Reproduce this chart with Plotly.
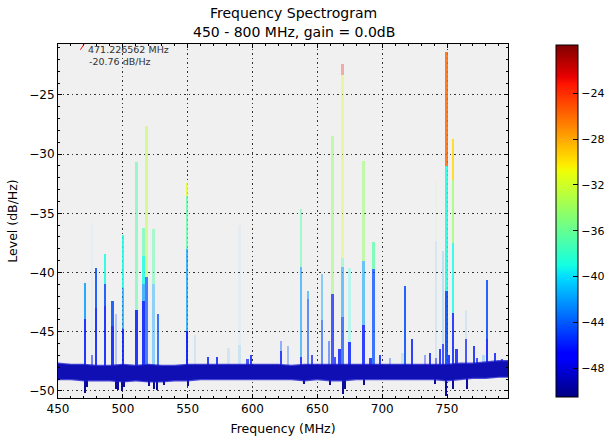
import plotly.graph_objects as go

# ---------------- data ----------------
title_line1 = "Frequency Spectrogram"
title_line2 = "450 - 800 MHz, gain = 0.0dB"
x_ticks = [450, 500, 550, 600, 650, 700, 750]
y_ticks = [-50, -45, -40, -35, -30, -25]
cbar_ticks = [-48, -44, -40, -36, -32, -28, -24]
marker_freq = 471.226562
marker_level = -20.76

# colour levels (dB) used with the jet colour scale
B, MB, LB, C, AG, LG, YG, Y, YO, O, R = -46.0, -44.4, -41.9, -39.0, -36.7, -34.2, -32.7, -31.3, -29.6, -25.9, -23.0

# peaks: frequency, descending segment tops (dB), colour level of each segment, density of each segment
peak_freqs = [471.1, 476.5, 479.6, 486.6, 492.2, 495.0, 500.5, 510.6, 516.2, 518.6,
              523.8, 527.1, 549.8, 555.7, 565.8, 572.7, 581.7, 590.2, 596.2, 599.0,
              622.2, 627.6, 637.7, 643.1, 646.2, 653.9, 659.3, 661.7, 664.0, 667.1,
              669.4, 674.8, 685.6, 691.0, 693.4, 698.5, 706.0, 715.8, 717.8, 723.0,
              733.3, 737.0, 741.6, 744.7, 747.2, 749.6, 751.8, 754.6, 757.5, 765.0,
              771.0, 773.3, 778.2, 781.2, 787.2, 792.4]
peak_levels = [[-40.9, -43.9], [-35.8, -47.0], [-39.6, -43.0], [-38.4, -41.0, -42.8], [-42.4, -44.5],
               [-43.5], [-36.8, -41.3, -44.8], [-30.7, -43.2], [-36.2, -38.6, -41.0, -42.4], [-27.6, -40.4],
               [-36.3, -41.0], [-43.5], [-32.4, -33.5, -38.0, -44.9], [-45.3], [-47.1], [-47.1], [-46.4],
               [-36.0, -46.1], [-47.3], [-47.0],
               [-45.8, -46.6], [-46.2], [-34.6, -39.5, -47.1], [-41.6, -42.2], [-47.0], [-40.1, -44.0],
               [-45.8], [-28.5, -41.8], [-47.1], [-46.5],
               [-22.4, -23.3, -38.8, -39.5, -43.8], [-39.6, -45.9], [-30.6, -39.0, -44.4], [-47.2],
               [-37.4, -39.7], [-47.0], [-47.2], [-46.8], [-41.1], [-45.6],
               [-47.0], [-46.8], [-32.3, -37.3, -47.2], [-46.5], [-38.2, -46.0], [-21.35, -31.0, -41.6],
               [-47.0], [-28.7, -32.2, -37.5, -43.4], [-46.5], [-43.2, -45.6],
               [-46.2], [-47.2], [-47.0], [-40.6, -45.6], [-46.8], [-47.3]]
peak_colors = [[LB, B], [LB, B], [MB, B], [C, MB, B], [MB, B],
               [MB], [C, LB, B], [AG, B], [AG, C, LB, B], [YG, MB],
               [AG, LB], [MB], [Y, AG, LB, B], [LB], [B], [B], [LB], [LB, LB], [B], [B],
               [MB, B], [MB], [AG, LB, B], [LB, MB], [B], [LB, MB], [MB], [LG, B], [B], [B],
               [R, Y, AG, LB, MB], [C, B], [LG, LB, B], [B], [AG, MB], [B], [MB], [LB], [MB], [B],
               [B], [B], [LG, LB, B], [B], [LB, B], [O, C, MB], [B], [YO, LG, C, B], [B], [LB, B],
               [B], [B], [LB], [MB, B], [B], [B]]
peak_density = [[0.85, 0.85], [0.04, 0.5], [0.85, 0.85], [0.85, 0.85, 0.85], [0.85, 0.85],
                [0.25], [0.85, 0.7, 0.85], [0.55, 0.85], [0.6, 0.8, 0.7, 0.85], [0.5, 0.7],
                [0.45, 0.4], [0.75], [0.8, 0.75, 0.75, 0.9], [0.12], [0.8], [0.8], [0.12], [0.04, 0.15], [0.7], [0.8],
                [0.4, 0.8], [0.3], [0.5, 0.6, 0.8], [0.55, 0.6], [0.7], [0.45, 0.6], [0.5], [0.5, 0.7], [0.7], [0.8],
                [0.3, 0.35, 0.4, 0.55, 0.7], [0.25, 0.8], [0.5, 0.55, 0.8], [0.8], [0.7, 0.75], [0.8], [0.35], [0.15], [0.85], [0.8],
                [0.35], [0.8], [0.06, 0.1, 0.5], [0.8], [0.2, 0.7], [0.85, 0.85, 0.9], [0.8], [0.8, 0.7, 0.8, 0.8], [0.8], [0.12, 0.7],
                [0.8], [0.7], [0.25], [0.85, 0.85], [0.8], [0.7]]

# noise floor envelope
floor_freq = [450, 460, 470, 480, 490, 500, 510, 520, 530, 540, 550, 560, 570, 580, 590, 600,
              610, 620, 630, 640, 650, 660, 670, 680, 690, 700, 710, 720, 730, 740, 750, 760,
              770, 780, 790, 797]
floor_hi = [-47.7, -47.8, -47.8, -47.9, -47.9, -47.8, -47.9, -47.8, -47.9, -47.9, -47.8, -47.8, -47.8, -47.8, -47.8, -47.8,
            -47.8, -47.8, -47.9, -47.8, -47.8, -47.8, -47.8, -47.8, -47.8, -47.8, -47.8, -47.8, -47.8, -47.8, -47.8, -47.7,
            -47.7, -47.6, -47.5, -47.5]
floor_lo = [-49.0, -49.0, -49.1, -49.1, -49.1, -49.2, -49.1, -49.2, -49.2, -49.1, -49.1, -49.0, -49.0, -49.0, -49.0, -49.0,
            -49.0, -49.0, -49.0, -49.1, -49.0, -49.1, -49.1, -49.0, -49.0, -49.0, -49.0, -49.0, -49.0, -49.0, -49.1, -49.0,
            -48.9, -48.9, -48.8, -48.8]

# downward excursions below the noise floor
dip_freqs = [471.1, 472.5, 494.5, 496.7, 499.8, 501.0, 520.5, 524.0, 526.5, 532.0,
             550.0, 640.0, 660.0, 669.7, 671.5, 686.0, 741.0, 749.3, 754.7, 765.5]
dip_levels = [-50.2, -49.7, -49.8, -49.9, -50.0, -49.7, -49.6, -49.8, -49.9, -49.5,
              -49.6, -49.4, -49.5, -50.3, -49.8, -49.5, -49.4, -50.4, -49.8, -49.8]

# ---------------- figure ----------------
CMIN, CMAX = -50.5, -19.8
jet = [[0.0, "rgb(0,0,128)"], [0.11, "rgb(0,0,255)"], [0.125, "rgb(0,0,255)"],
       [0.34, "rgb(0,220,255)"], [0.375, "rgb(20,255,226)"], [0.64, "rgb(238,255,8)"],
       [0.66, "rgb(255,236,0)"], [0.89, "rgb(255,19,0)"], [0.91, "rgb(232,0,0)"], [1.0, "rgb(128,0,0)"]]

FONT = "DejaVu Sans"

def floor_top_at(f):
    for i in range(len(floor_freq) - 1):
        if floor_freq[i] <= f <= floor_freq[i + 1]:
            t = (f - floor_freq[i]) / (floor_freq[i + 1] - floor_freq[i])
            return floor_hi[i] + t * (floor_hi[i + 1] - floor_hi[i])
    return floor_hi[-1]

bx, by, bbase, bcol, bop = [], [], [], [], []
for f, levs, cols, dens in zip(peak_freqs, peak_levels, peak_colors, peak_density):
    bottoms = levs[1:] + [floor_top_at(f) - 0.3]
    for top, bot, c, d in zip(levs, bottoms, cols, dens):
        bx.append(f)
        bbase.append(bot)
        by.append(top - bot)
        bcol.append(c)
        bop.append(d)

fig = go.Figure()
fig.add_trace(go.Bar(
    x=bx, y=by, base=bbase, width=1.5,
    marker=dict(color=bcol, colorscale=jet, cmin=CMIN, cmax=CMAX, opacity=bop,
                line=dict(width=0), showscale=True,
                colorbar=dict(x=1.107, xanchor="left", xpad=0, ypad=0, y=0.5, yanchor="middle",
                              len=352, lenmode="pixels", thickness=22, thicknessmode="pixels",
                              outlinewidth=1, outlinecolor="black",
                              tickvals=cbar_ticks, ticks="inside", ticklen=5, tickcolor="black",
                              tickfont=dict(family=FONT, size=11, color="black"))),
    hoverinfo="skip", showlegend=False))

fig.add_trace(go.Bar(
    x=dip_freqs, base=dip_levels,
    y=[floor_top_at(f) - 0.5 - d for f, d in zip(dip_freqs, dip_levels)],
    width=1.0, marker=dict(color="#0a0a9c", line=dict(width=0)),
    hoverinfo="skip", showlegend=False))

# noise floor band (outer fuzzy + inner dense)
fig.add_trace(go.Scatter(
    x=floor_freq + floor_freq[::-1],
    y=[h + 0.1 for h in floor_hi] + [l - 0.1 for l in floor_lo[::-1]],
    fill="toself", fillcolor="rgba(30,30,210,0.8)", mode="none",
    hoverinfo="skip", showlegend=False))
fig.add_trace(go.Scatter(
    x=floor_freq + floor_freq[::-1],
    y=floor_hi + floor_lo[::-1],
    fill="toself", fillcolor="#0f0fb4", mode="none",
    hoverinfo="skip", showlegend=False))

# marker annotation
fig.add_shape(type="line", x0=marker_freq - 4.0, y0=marker_level - 0.42,
              x1=marker_freq - 1.2, y1=marker_level + 0.02,
              line=dict(color="red", width=1))
fig.add_annotation(x=marker_freq + 0.6, y=marker_level - 0.4, xanchor="left", yanchor="middle",
                   text=f"{marker_freq:.6f} MHz", showarrow=False,
                   font=dict(family=FONT, size=9.5, color="#333333"))
fig.add_annotation(x=marker_freq + 1.2, y=marker_level - 1.4, xanchor="left", yanchor="middle",
                   text=f"{marker_level:.2f} dB/Hz", showarrow=False,
                   font=dict(family=FONT, size=9.5, color="#333333"))

# two-line title
fig.add_annotation(xref="paper", yref="paper", x=0.524, y=1.0876, xanchor="center", yanchor="middle",
                   text=title_line1, showarrow=False, font=dict(family=FONT, size=14, color="black"))
fig.add_annotation(xref="paper", yref="paper", x=0.524, y=1.034, xanchor="center", yanchor="middle",
                   text=title_line2, showarrow=False, font=dict(family=FONT, size=14, color="black"))

axis_common = dict(showline=True, linecolor="black", linewidth=1, mirror="allticks",
                   ticks="inside", ticklen=4, tickcolor="black",
                   showgrid=True, gridcolor="#333333", griddash="1.5px,3px", gridwidth=1,
                   zeroline=False, tickfont=dict(family=FONT, size=12, color="black"))

fig.update_layout(
    width=609, height=443,
    margin=dict(l=58, r=101, t=44, b=45, autoexpand=False),
    paper_bgcolor="white", plot_bgcolor="#f0f0f0",
    barmode="overlay", bargap=0,
    font=dict(family=FONT, color="black"),
    xaxis=dict(range=[450, 797], tickvals=x_ticks,
               minor=dict(dtick=10, ticks="inside", ticklen=2, tickcolor="black", showgrid=False),
               title=dict(text="Frequency (MHz)", font=dict(family=FONT, size=12.5), standoff=8),
               **axis_common),
    yaxis=dict(range=[-50.6, -20.7], tickvals=y_ticks,
               minor=dict(dtick=1, ticks="inside", ticklen=2, tickcolor="black", showgrid=False),
               title=dict(text="Level (dB/Hz)", font=dict(family=FONT, size=12.5), standoff=8),
               **axis_common),
)

fig.write_html("out.html", config={"displayModeBar": False},
               post_script="document.body.style.margin='0';document.body.style.overflow='hidden';")
